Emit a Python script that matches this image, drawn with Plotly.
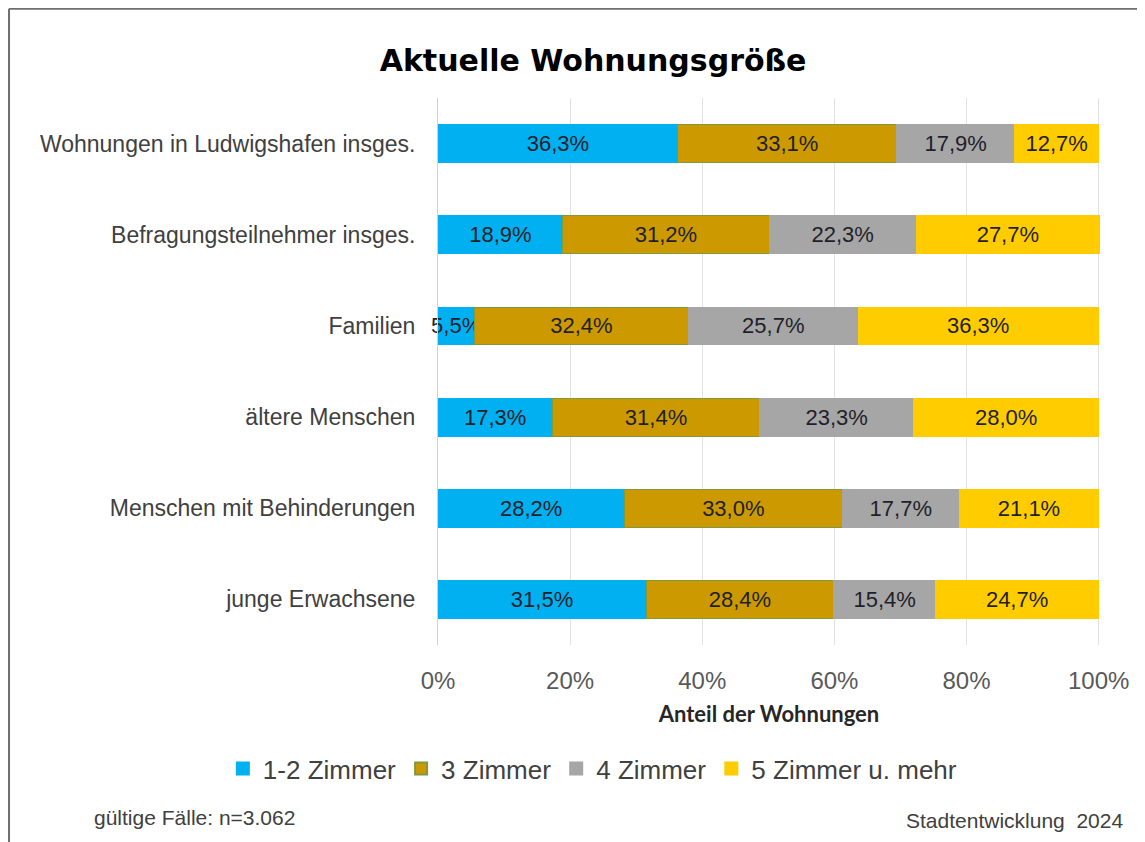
import plotly.graph_objects as go

categories = [
    "Wohnungen in Ludwigshafen insges.",
    "Befragungsteilnehmer insges.",
    "Familien",
    "ältere Menschen",
    "Menschen mit Behinderungen",
    "junge Erwachsene",
]
series_names = ["1-2 Zimmer", "3 Zimmer", "4 Zimmer", "5 Zimmer u. mehr"]
zimmer_1_2 = [36.3, 18.9, 5.5, 17.3, 28.2, 31.5]
zimmer_3 = [33.1, 31.2, 32.4, 31.4, 33.0, 28.4]
zimmer_4 = [17.9, 22.3, 25.7, 23.3, 17.7, 15.4]
zimmer_5 = [12.7, 27.7, 36.3, 28.0, 21.1, 24.7]
x_ticks = [0, 20, 40, 60, 80, 100]
x_ticktext = ["0%", "20%", "40%", "60%", "80%", "100%"]

colors = ["#00B0F0", "#CC9900", "#A6A6A6", "#FFCC00"]
outlines = ["#00B0F0", "#7F9A3A", "#A6A6A6", "#FFCC00"]

fig = go.Figure()
for name, vals, col, oc in zip(series_names, [zimmer_1_2, zimmer_3, zimmer_4, zimmer_5], colors, outlines):
    fig.add_trace(
        go.Bar(
            y=categories,
            x=vals,
            name=name,
            orientation="h",
            marker=dict(color=col, line=dict(color=oc, width=1)),
            texttemplate="%{x:.1f}%",
            textposition="inside",
            insidetextanchor="middle",
            textangle=0,
            textfont=dict(size=22, color="#1F1F2A", family="Liberation Sans, Arial"),
            constraintext="none",
            cliponaxis=False,
        )
    )

# note: the page body adds an 8px offset, margins are compensated for that
fig.update_layout(
    barmode="stack",
    bargap=0.585,
    separators=",.",
    width=1145,
    height=842,
    paper_bgcolor="white",
    plot_bgcolor="white",
    font=dict(family="Liberation Sans, Arial", color="#404040"),
    uniformtext=dict(minsize=22, mode="show"),
    title=dict(
        text="<b>Aktuelle Wohnungsgröße</b>",
        x=0.511,
        xanchor="center",
        y=0.938,
        yanchor="middle",
        font=dict(size=30, color="#000000", family="DejaVu Sans"),
    ),
    margin=dict(l=430, r=53, t=90, b=205),
    showlegend=True,
    legend=dict(
        orientation="h",
        x=-0.325,
        xanchor="left",
        y=-0.226,
        yanchor="middle",
        font=dict(size=26, color="#404040"),
        itemsizing="constant",
        traceorder="normal",
        itemwidth=30,
    ),
    xaxis=dict(
        range=[0, 100.2],
        tickvals=x_ticks,
        ticktext=x_ticktext,
        showgrid=True,
        gridcolor="#E3E3E3",
        gridwidth=1,
        zeroline=False,
        automargin=False,
        tickfont=dict(size=24, color="#595959"),
        ticklabelstandoff=19,
        title=dict(text="<b>Anteil der Wohnungen</b>",
                   font=dict(size=22, color="#262626", family="Lato"), standoff=13),
        fixedrange=True,
    ),
    yaxis=dict(
        autorange="reversed",
        showline=True,
        linecolor="#D0D0D0",
        linewidth=1,
        automargin=False,
        tickfont=dict(size=23, color="#404040"),
        ticklabelstandoff=17,
        fixedrange=True,
    ),
    shapes=[
        dict(type="line", xref="paper", yref="paper", x0=-0.648, x1=1.08, y0=1.163, y1=1.163,
             line=dict(color="#6E6E6E", width=2)),
        dict(type="line", xref="paper", yref="paper", x0=-0.648, x1=-0.648, y0=1.163, y1=-0.37,
             line=dict(color="#6E6E6E", width=2)),
    ],
    annotations=[
        dict(text="gültige Fälle: n=3.062", xref="paper", yref="paper", x=-0.5227, y=-0.316,
             xanchor="left", yanchor="middle", showarrow=False, font=dict(size=21, color="#404040")),
        dict(text="Stadtentwicklung  2024", xref="paper", yref="paper", x=1.0378, y=-0.32,
             xanchor="right", yanchor="middle", showarrow=False, font=dict(size=21, color="#404040")),
    ],
)

fig.write_html("out.html")
